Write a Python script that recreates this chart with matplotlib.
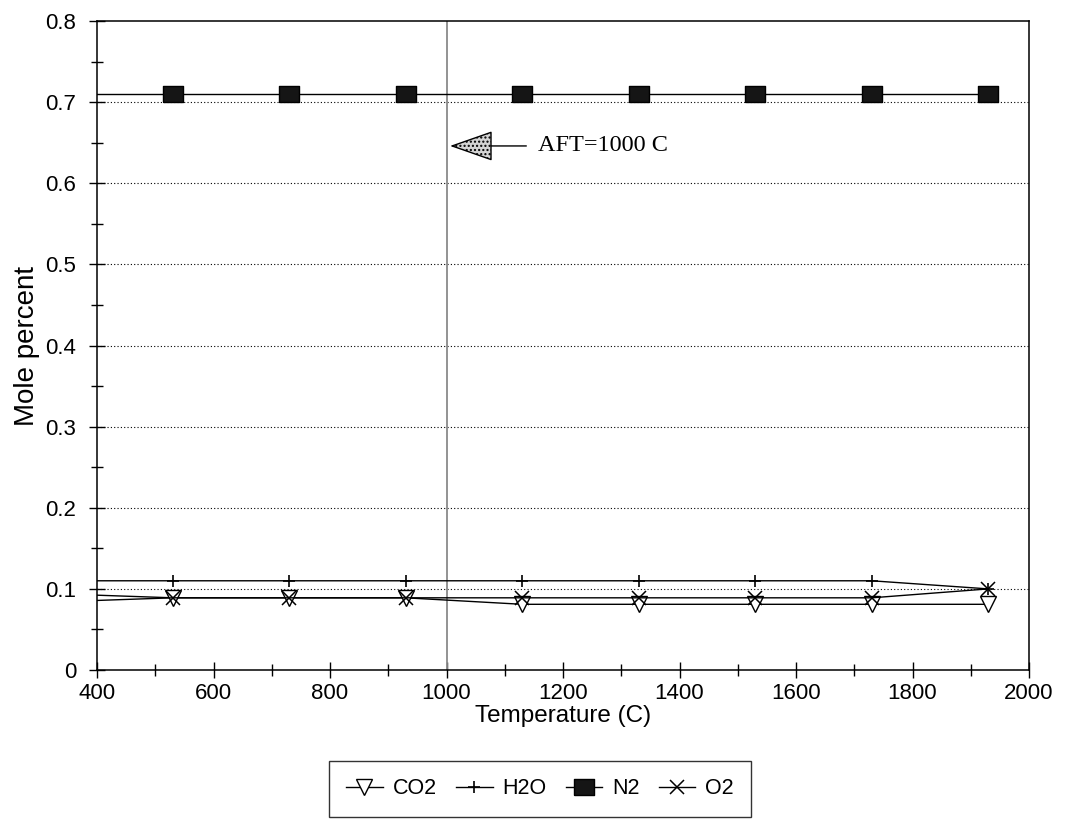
import matplotlib.pyplot as plt
from matplotlib.ticker import MultipleLocator

# equilibrium composition vs temperature (first point sits left of the plotted range)
temps = [330, 530, 730, 930, 1130, 1330, 1530, 1730, 1930]
co2 = [0.094, 0.089, 0.089, 0.089, 0.081, 0.081, 0.081, 0.081, 0.081]
h2o = [0.11, 0.11, 0.11, 0.11, 0.11, 0.11, 0.11, 0.11, 0.10]
n2 = [0.71, 0.71, 0.71, 0.71, 0.71, 0.71, 0.71, 0.71, 0.71]
o2 = [0.084, 0.089, 0.089, 0.089, 0.089, 0.089, 0.089, 0.089, 0.10]

aft = 1000
aft_label = "AFT=1000 C"

plt.rcParams["font.family"] = ["Liberation Sans", "DejaVu Sans"]

fig = plt.figure(figsize=(10.65, 8.21), dpi=100)
ax = fig.add_axes([0.0911, 0.1839, 0.8751, 0.7905])

# slightly wide box for the N2 marker
rect = [(-1, -0.78), (1, -0.78), (1, 0.78), (-1, 0.78), (-1, -0.78)]

ax.plot(temps, co2, color="black", lw=1.0, marker="v", ms=12,
        mfc="white", mec="black", mew=1.0, label="CO2", zorder=4)
ax.plot(temps, h2o, color="black", lw=1.0, marker="+", ms=9,
        mew=1.2, label="H2O", zorder=4)
ax.plot(temps, n2, color="black", lw=1.0, marker=rect, ms=14,
        mfc="#151515", mec="black", label="N2", zorder=4)
ax.plot(temps, o2, color="black", lw=1.0, marker="x", ms=10,
        mew=1.1, label="O2", zorder=5)

# adiabatic flame temperature marker
ax.axvline(aft, color="#8a8a8a", lw=1.3, zorder=2)
ax.annotate("", xy=(1006, 0.646), xytext=(1137, 0.646),
            arrowprops=dict(arrowstyle="-|>,head_length=2.0,head_width=0.7",
                            mutation_scale=14, shrinkA=0, shrinkB=0,
                            lw=1.0, facecolor="#d4d4d4", edgecolor="black",
                            hatch="...."))
ax.text(1157, 0.646, aft_label, family=["Liberation Serif", "DejaVu Serif"],
        fontsize=17.5, va="center", ha="left")

ax.set_xlim(400, 2000)
ax.set_ylim(0, 0.8)
ax.xaxis.set_major_locator(MultipleLocator(200))
ax.xaxis.set_minor_locator(MultipleLocator(100))
ax.yaxis.set_major_locator(MultipleLocator(0.1))
ax.yaxis.set_minor_locator(MultipleLocator(0.05))
ax.yaxis.set_major_formatter(lambda v, p: "0" if abs(v) < 1e-9 else f"{v:.1f}")

ax.tick_params(which="major", direction="inout", length=12, width=1.0,
               labelsize=16, top=False, right=False)
ax.tick_params(which="minor", direction="inout", length=8, width=1.0,
               top=False, right=False)
ax.tick_params(axis="x", which="major", pad=3)
ax.tick_params(axis="y", which="major", pad=9)

for sp in ax.spines.values():
    sp.set_linewidth(1.1)

for y in [0.1, 0.2, 0.3, 0.4, 0.5, 0.6, 0.7]:
    ax.axhline(y, color="black", lw=0.8, ls=(0, (1, 2)), zorder=1)

ax.set_xlabel("Temperature (C)", fontsize=17.5, labelpad=1)
ax.set_ylabel("Mole percent", fontsize=20, labelpad=4)

handles, labels = ax.get_legend_handles_labels()
leg = fig.legend(handles, labels, ncol=4, loc="center",
                 bbox_to_anchor=(0.507, 0.039), fontsize=15.5, frameon=True,
                 fancybox=False, edgecolor="black", handlelength=1.7,
                 handletextpad=0.45, columnspacing=0.9, borderpad=0.8)
leg.get_frame().set_linewidth(1.0)

plt.savefig("out.png")
plt.close()
